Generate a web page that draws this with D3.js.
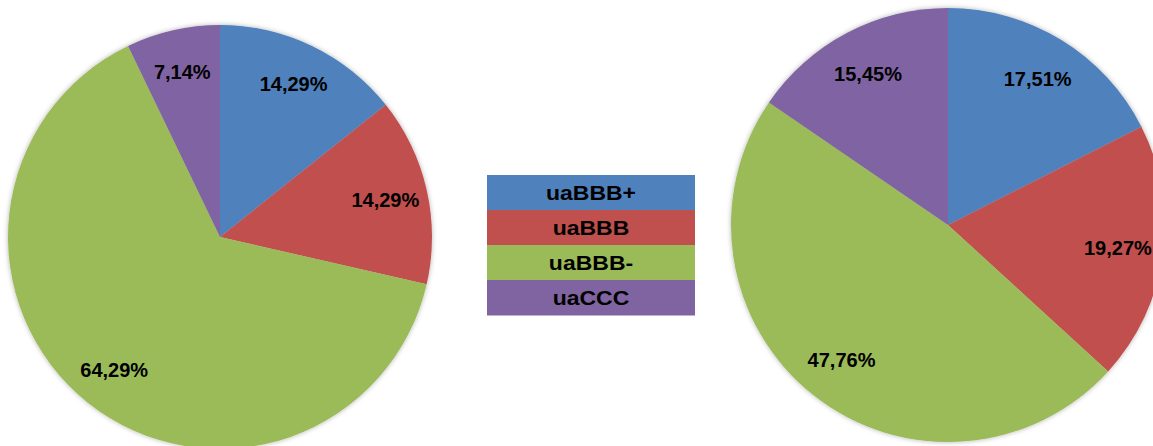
<!DOCTYPE html>
<html><head><meta charset="utf-8">
<script src="https://cdn.jsdelivr.net/npm/d3@7"></script>
<style>
html,body{margin:0;padding:0;background:#fff;overflow:hidden}
svg{display:block}
text{font-family:"Liberation Sans",Arial,sans-serif;font-weight:bold;fill:#000}
</style></head>
<body>
<svg id="chart" width="1153" height="446"></svg>
<script>
const categories = ["uaBBB+", "uaBBB", "uaBBB-", "uaCCC"];
const leftValues = [14.29, 14.29, 64.29, 7.14];
const rightValues = [17.51, 19.27, 47.76, 15.45];
const colors = ["#4F81BD", "#C0504D", "#9BBB59", "#8064A2"];

const svg = d3.select("#chart");
const defs = svg.append("defs");
const f = defs.append("filter").attr("id","sh").attr("x","-10%").attr("y","-10%").attr("width","120%").attr("height","120%");
f.append("feDropShadow").attr("dx",0).attr("dy",0).attr("stdDeviation",2.5).attr("flood-color","#000").attr("flood-opacity",0.3);

const color = d3.scaleOrdinal().domain(categories).range(colors);
const fmt = v => v.toFixed(2).replace(".", ",") + "%";

function drawPie(values, cx, cy, R, lr) {
  const data = categories.map((c, i) => ({cat: c, value: values[i]}));
  const pie = d3.pie().sort(null).value(d => d.value);
  const arcs = pie(data);
  const arc = d3.arc().innerRadius(0).outerRadius(R);
  const labelArc = d3.arc().innerRadius(R * lr).outerRadius(R * lr);
  const g = svg.append("g").attr("transform", `translate(${cx},${cy})`);
  g.append("g").attr("filter","url(#sh)").selectAll("path").data(arcs).join("path")
    .attr("d", arc).attr("fill", d => color(d.data.cat));
  g.selectAll("text").data(arcs).join("text")
    .attr("transform", d => `translate(${labelArc.centroid(d)})`)
    .attr("text-anchor", "middle").attr("dy", "0.36em")
    .style("font-size", "20px")
    .text(d => fmt(d.data.value));
}

drawPie(leftValues, 220, 237, 212, 0.8);
drawPie(rightValues, 948, 225, 217, 0.79);

// legend
const ly = d3.scaleBand().domain(categories).range([175, 315]);
const lg = svg.append("g");
lg.selectAll("rect").data(categories).join("rect")
  .attr("x", 487).attr("width", 208)
  .attr("y", d => ly(d)).attr("height", ly.bandwidth() + 0.5)
  .attr("fill", d => color(d));
lg.selectAll("text").data(categories).join("text")
  .attr("transform", d => `translate(591,${ly(d) + ly.bandwidth()/2}) scale(1.15,1)`)
  .attr("text-anchor", "middle").attr("dy", "0.36em")
  .style("font-size", "20px")
  .text(d => d);
</script>
</body></html>
